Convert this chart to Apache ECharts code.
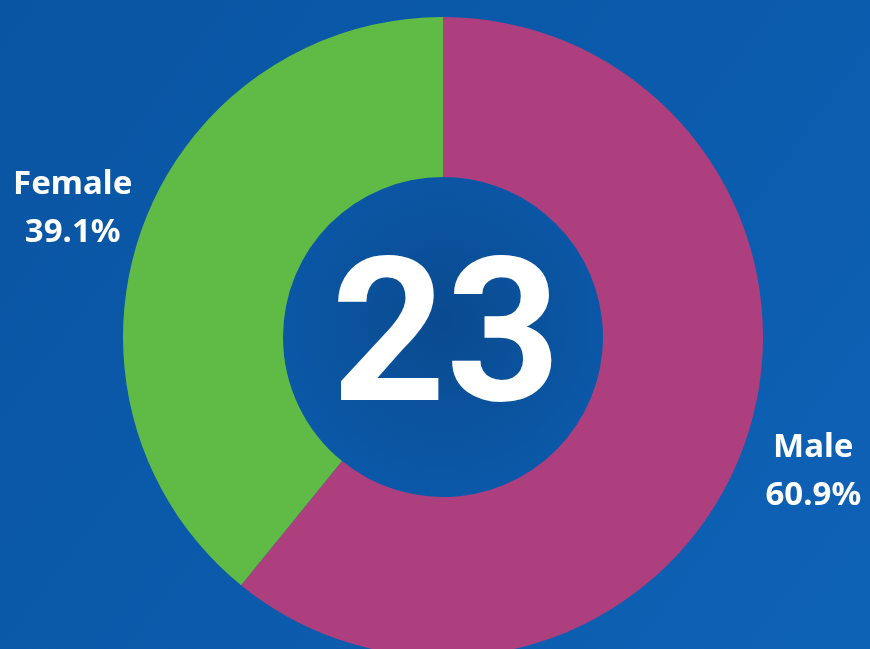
<!DOCTYPE html>
<html>
<head>
<meta charset="utf-8">
<style>
  html, body { margin: 0; padding: 0; }
  #chart { width: 870px; height: 649px; }
</style>
<script src="https://cdn.jsdelivr.net/npm/echarts@6/dist/echarts.min.js"></script>
</head>
<body>
<div id="chart"></div>
<script>
const categories = ['Male', 'Female'];
const values = [14, 9];
const colors = ['#ae3f7f', '#5fbb46'];

const CX = 443, CY = 337, R_IN = 160, R_OUT = 320, R_LABEL = 393;
const total = values.reduce((a, b) => a + b, 0);

const chart = echarts.init(document.getElementById('chart'));

function midAngle(i) {
  let before = 0;
  for (let k = 0; k < i; k++) before += values[k];
  return 2 * Math.PI * (before + values[i] / 2) / total;
}

chart.setOption({
  backgroundColor: {
    type: 'linear', x: 0, y: 0, x2: 1, y2: 1,
    colorStops: [
      { offset: 0, color: '#0a55a3' },
      { offset: 0.5, color: '#0b5aab' },
      { offset: 1, color: '#0e62b6' }
    ]
  },
  graphic: [
    {
      type: 'circle',
      shape: { cx: CX, cy: CY, r: R_IN },
      style: {
        fill: {
          type: 'radial', x: 0.5, y: 0.45, r: 0.6,
          colorStops: [
            { offset: 0, color: '#0a4a8f' },
            { offset: 1, color: '#0b5aab' }
          ]
        }
      },
      z: 0, silent: true
    },
    {
      type: 'text',
      x: 446, y: 350,
      style: {
        text: String(total),
        fill: '#ffffff',
        font: 'bold 200px Roboto',
        align: 'center',
        verticalAlign: 'middle',
        shadowColor: 'rgba(0,0,0,0.25)',
        shadowBlur: 6
      },
      z: 10
    }
  ],
  series: [{
    type: 'pie',
    center: [CX, CY],
    radius: [R_IN, R_OUT],
    startAngle: 90,
    clockwise: true,
    silent: true,
    animation: false,
    itemStyle: { borderWidth: 0 },
    labelLine: { show: false },
    label: {
      show: true,
      position: 'outside',
      color: '#ffffff',
      fontFamily: 'Noto Sans',
      fontWeight: 'bold',
      fontSize: 33,
      lineHeight: 48,
      align: 'center',
      overflow: 'none',
      edgeDistance: 0,
      formatter: p => p.name + '\n' + (p.value / total * 100).toFixed(1) + '%'
    },
    labelLayout: function (params) {
      const a = midAngle(params.dataIndex);
      return {
        x: CX + R_LABEL * Math.sin(a),
        y: CY - R_LABEL * Math.cos(a) + 3,
        align: 'center',
        verticalAlign: 'middle',
        width: 200
      };
    },
    data: categories.map((c, i) => ({ name: c, value: values[i], itemStyle: { color: colors[i] } }))
  }]
});
</script>
</body>
</html>
